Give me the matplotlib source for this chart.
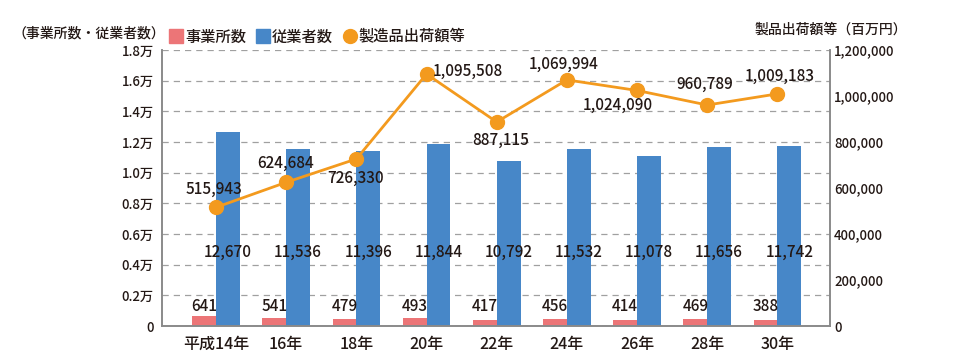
import matplotlib
matplotlib.use('Agg')
import matplotlib.pyplot as plt
from matplotlib.lines import Line2D
import numpy as np

plt.rcParams['font.family'] = ['Noto Sans CJK JP', 'DejaVu Sans']
plt.rcParams['font.weight'] = 'medium'
plt.rcParams['axes.unicode_minus'] = False

PINK = '#ec7577'
BLUE = '#4787c8'
ORANGE = '#f39a1e'
DARK = '#231815'
GRAY = '#8a8a8a'

years = ['平成14年', '16年', '18年', '20年', '22年', '24年', '26年', '28年', '30年']
establishments = [641, 541, 479, 493, 417, 456, 414, 469, 388]
employees = [12670, 11536, 11396, 11844, 10792, 11532, 11078, 11656, 11742]
shipments = [515943, 624684, 726330, 1095508, 887115, 1069994, 1024090, 960789, 1009183]

# label offsets for the line values (pixels, x right / y up)
line_offsets = [(-2, 18), (-1, 19), (-1, -19), (6, 3), (4, -18),
                (-3, 16), (-19, -15), (-2, 21), (2, 18)]

fig = plt.figure(figsize=(9.6, 3.6), dpi=100)
ax = fig.add_axes([162/960, 34/360, (830-162)/960, (326-50)/360])
ax2 = ax.twinx()

x = np.arange(len(years))
w = 0.34
ax.bar(x - w/2, establishments, width=w, color=PINK, zorder=2)
ax.bar(x + w/2, employees, width=w, color=BLUE, zorder=2)

for i in range(len(years)):
    ax.text(x[i] - w/2, 1250, f'{establishments[i]:,}', ha='center', va='center',
            fontsize=11, color=DARK, zorder=3)
    ax.text(x[i] + w/2, 4800, f'{employees[i]:,}', ha='center', va='center',
            fontsize=11, color=DARK, zorder=3)

ax.set_xlim(-0.77, 8.75)
ax.set_ylim(0, 18000)
yt = np.arange(0, 18001, 2000)
ax.set_yticks(yt)
ax.set_yticklabels(['0'] + [f'{v/10000:.1f}万' for v in yt[1:]], fontsize=9.5, color=DARK)
ax.set_xticks(x)
ax.set_xticklabels(years, fontsize=11.5, color=DARK)
ax.tick_params(axis='x', length=0, pad=7)
ax.tick_params(axis='y', length=0, pad=6)
ax.yaxis.grid(True, linestyle=(0, (5, 4)), color='#a0a0a0', lw=0.9)
ax.set_axisbelow(True)

ax2.plot(x, shipments, color=ORANGE, lw=2, marker='o', markersize=10, zorder=4)
for i in range(len(years)):
    dx, dy = line_offsets[i]
    ax2.annotate(f'{shipments[i]:,}', (x[i], shipments[i]),
                 xytext=(dx * 0.72, dy * 0.72), textcoords='offset points',
                 ha='left' if i == 3 else 'center', va='center',
                 fontsize=11, color=DARK, zorder=5)
ax2.set_ylim(0, 1200000)
ax2.set_yticks(np.arange(0, 1200001, 200000))
ax2.set_yticklabels([f'{v:,}' for v in range(0, 1200001, 200000)], fontsize=9.5, color=DARK)
ax2.tick_params(axis='y', length=0, pad=3)

for a in (ax, ax2):
    a.spines['top'].set_visible(False)
    for s in ('left', 'right', 'bottom'):
        a.spines[s].set_color(GRAY)
        a.spines[s].set_linewidth(1.2)

fig.text(13/960, 1 - 33/360, '（事業所数・従業者数）', fontsize=10, color=DARK,
         ha='left', va='center')
fig.text(907/960, 1 - 30/360, '製品出荷額等（百万円）', fontsize=10, color=DARK,
         ha='right', va='center')

handles = [
    Line2D([], [], marker='s', ls='none', color=PINK, markersize=10),
    Line2D([], [], marker='s', ls='none', color=BLUE, markersize=10),
    Line2D([], [], marker='o', ls='none', color=ORANGE, markersize=10),
]
fig.legend(handles, ['事業所数', '従業者数', '製造品出荷額等'], ncol=3,
           loc='center left', bbox_to_anchor=(162/960, 1 - 37/360), frameon=False,
           fontsize=11, handletextpad=0.1, columnspacing=0.6, handlelength=1.0,
           borderaxespad=0, labelcolor=DARK)

fig.savefig('out.png', dpi=100)
